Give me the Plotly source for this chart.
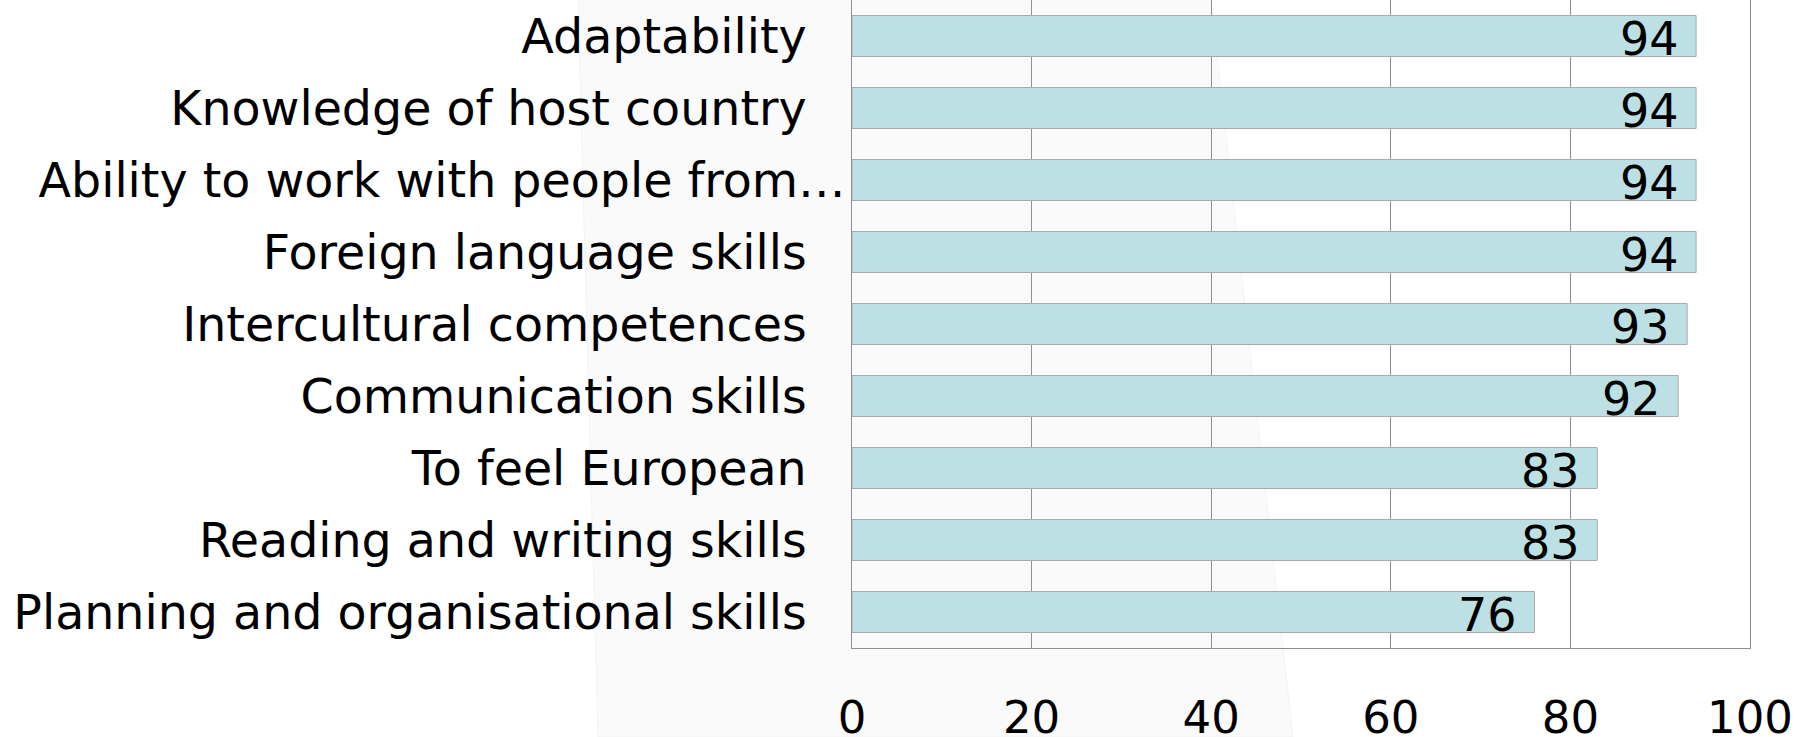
import plotly.graph_objects as go

categories = [
    "Adaptability",
    "Knowledge of host country",
    "Ability to work with people from\u2026",
    "Foreign language skills",
    "Intercultural competences",
    "Communication skills",
    "To feel European",
    "Reading and writing skills",
    "Planning and organisational skills",
]
values = [94, 94, 94, 94, 93, 92, 83, 83, 76]
tick_vals = [0, 20, 40, 60, 80, 100]

FONT = "DejaVu Sans"
W, H = 1810, 737
L, R, T, B = 852, 60, 0, 89

# pad labels (except the truncated one) so they end left of the truncated label
labels = [c if c.endswith("\u2026") else c + "\u2002\u00a0" for c in categories]

fig = go.Figure()
fig.add_trace(go.Bar(
    y=labels, x=values, orientation="h",
    marker=dict(color="#bce0e3", line=dict(color="#a9a9a9", width=1)),
    hoverinfo="skip",
))

for lab, v in zip(labels, values):
    fig.add_annotation(
        x=v, y=lab, xref="x", yref="y", text=str(v), showarrow=False,
        xanchor="right", yanchor="middle", xshift=-15, yshift=-3,
        font=dict(family=FONT, size=46, color="#000000"),
    )

# faint background quadrilateral seen behind the chart
pw, ph = W - L - R, H - T - B
def px(xp):
    return (xp - L) / pw
def py(yp):
    return (H - B - yp) / ph
path = "M {} {} L {} {} L {} {} L {} {} Z".format(
    px(578), py(0), px(1211), py(0), px(1293), py(737), px(598), py(737))
fig.add_shape(type="path", path=path, xref="paper", yref="paper",
              fillcolor="#fafafa", line=dict(color="#f3f3f3", width=1), layer="below")

fig.update_layout(
    width=W, height=H,
    margin=dict(l=L, r=R, t=T, b=B, pad=0, autoexpand=False),
    paper_bgcolor="#ffffff",
    plot_bgcolor="rgba(0,0,0,0)",
    bargap=0.43,
    showlegend=False,
    font=dict(family=FONT, size=46, color="#000000"),
    xaxis=dict(
        range=[0, 100], tickvals=tick_vals, ticktext=[str(t) for t in tick_vals],
        showgrid=True, gridcolor="#8f8f8f", gridwidth=1,
        showline=True, linecolor="#8f8f8f", linewidth=1,
        zeroline=False, ticks="", ticklen=0, ticklabelstandoff=30,
        automargin=False,
        tickfont=dict(family=FONT, size=45, color="#000000"),
    ),
    yaxis=dict(
        autorange="reversed", showgrid=False, zeroline=False,
        showline=True, mirror=True, linecolor="#8f8f8f", linewidth=1,
        ticks="", ticklen=0, ticklabelstandoff=-4, automargin=False,
        tickfont=dict(family=FONT, size=47.5, color="#000000"),
    ),
)

fig.write_html(
    "out.html",
    config={"displayModeBar": False},
    post_script="document.body.style.margin='0';document.body.style.overflow='hidden';",
)
